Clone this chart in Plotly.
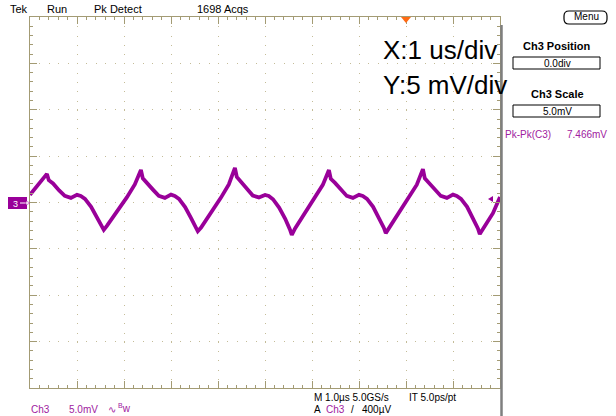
import plotly.graph_objects as go

# ---------------- data ----------------
# time in microseconds (0..10 across the 10 divisions, 1 us/div)
t_us = [0.00, 0.15, 0.36, 0.40, 0.49, 0.62, 0.74, 0.87, 1.00, 1.08, 1.17, 1.30, 1.43, 1.53, 1.57, 1.64, 1.85, 2.06, 2.23,
        2.36, 2.40, 2.49, 2.62, 2.74, 2.87, 3.00, 3.08, 3.17, 3.30, 3.43, 3.53, 3.57, 3.64, 3.85, 4.06, 4.23,
        4.36, 4.40, 4.49, 4.62, 4.74, 4.87, 5.00, 5.08, 5.17, 5.30, 5.43, 5.53, 5.57, 5.64, 5.85, 6.06, 6.23,
        6.36, 6.40, 6.49, 6.62, 6.74, 6.87, 7.00, 7.08, 7.17, 7.30, 7.43, 7.53, 7.57, 7.64, 7.85, 8.06, 8.23,
        8.36, 8.40, 8.49, 8.62, 8.74, 8.87, 9.00, 9.08, 9.17, 9.30, 9.43, 9.53, 9.57, 9.64, 9.85, 10.00]
# Ch3 voltage in mV (5 mV/div)
v_mV = [0.82, 1.79, 3.08, 2.40, 2.05, 1.30, 0.71, 0.50, 0.82, 0.71, 0.39, -0.47, -1.66, -2.60, -2.95, -2.50, -1.00, 0.55, 1.95,
        3.51, 2.60, 2.15, 1.36, 0.71, 0.50, 0.85, 0.71, 0.39, -0.50, -1.70, -2.74, -3.10, -2.70, -1.12, 0.50, 1.95,
        3.73, 2.75, 2.20, 1.40, 0.75, 0.55, 0.82, 0.71, 0.35, -0.55, -1.75, -2.90, -3.50, -2.80, -1.15, 0.50, 1.90,
        3.50, 2.55, 2.11, 1.36, 0.71, 0.50, 0.82, 0.71, 0.39, -0.47, -1.66, -2.74, -3.30, -2.74, -1.12, 0.50, 1.92,
        3.60, 2.60, 2.11, 1.36, 0.71, 0.50, 0.85, 0.71, 0.39, -0.47, -1.70, -2.80, -3.40, -2.80, -1.15, 0.60]

# ---------------- styling ----------------
W, H = 616, 416
X0, X1, Y0, Y1 = 30, 500, 17, 388       # graticule box in pixels
GRID = "#c4bc98"
BORDER = "#a39b74"
PURPLE = "#990099"
FONT = "Liberation Sans, Arial, sans-serif"
BIGFONT = "Liberation Sans, Arial, sans-serif"


def px(x):
    return x / W


def py(y):
    return 1 - y / H


fig = go.Figure()
fig.add_trace(go.Scatter(x=t_us, y=v_mV, mode="lines",
                         line=dict(color=PURPLE, width=3.8), hoverinfo="skip"))

axis_common = dict(showgrid=True, gridcolor=GRID, gridwidth=1, zeroline=False,
                   showline=True, linecolor=BORDER, linewidth=1, mirror="allticks",
                   ticks="inside", ticklen=7, tickcolor=BORDER, tickwidth=1,
                   showticklabels=False, fixedrange=True)

fig.update_layout(
    width=W, height=H, margin=dict(l=0, r=0, t=0, b=0),
    paper_bgcolor="white", plot_bgcolor="white", showlegend=False,
    xaxis=dict(domain=[px(X0), px(X1)], range=[0, 10], dtick=1, tick0=0,
               griddash="1px,8.28px",
               minor=dict(dtick=0.2, tick0=0, ticks="inside", ticklen=3,
                          tickcolor=BORDER, showgrid=False),
               **axis_common),
    yaxis=dict(domain=[py(Y1), py(Y0)], range=[-20, 20], dtick=5, tick0=0,
               griddash="1px,8.4px",
               minor=dict(dtick=1, tick0=0, ticks="inside", ticklen=3,
                          tickcolor=BORDER, showgrid=False),
               **axis_common),
)

ann = []


def txt(x, y, s, size=11, color="black", anchor="left", family=FONT):
    ann.append(dict(x=px(x), y=py(y), xref="paper", yref="paper", text=s,
                    showarrow=False, xanchor=anchor, yanchor="middle",
                    font=dict(size=size, color=color, family=family)))


# header
txt(8, 9, "Tek")
txt(45, 9, "Run")
txt(92, 9, "Pk Detect")
txt(195, 9, "1698 Acqs")
txt(586, 17, "Menu", size=10, anchor="center")

# big annotation text
txt(381, 50, "X:1 us/div", size=26, family=BIGFONT)
txt(381, 85, "Y:5 mV/div", size=26, family=BIGFONT)

# right panel
txt(557, 46, "<b>Ch3 Position</b>", size=11, anchor="center")
txt(557, 63, "0.0div", size=10, anchor="center")
txt(557, 94, "<b>Ch3 Scale</b>", size=11, anchor="center")
txt(557, 111, "5.0mV", size=10, anchor="center")
txt(503, 134, "Pk-Pk(C3)", size=10, color="#a020a0")
txt(565, 134, "7.466mV", size=10, color="#a020a0")

# bottom status
txt(29, 409, "Ch3", size=10, color="#a020a0")
txt(67, 409, "5.0mV", size=10, color="#a020a0")
txt(106, 409, "∿", size=10, color="#a020a0")
txt(116, 408, "<sup>B</sup>w", size=10, color="#a020a0")
txt(312, 397, "M 1.0µs 5.0GS/s", size=10)
txt(407, 397, "IT 5.0ps/pt", size=10)
txt(312, 409, "A", size=10)
txt(324, 409, "Ch3", size=10, color="#a020a0")
txt(349, 409, "/", size=10)
txt(360, 409, "400µV", size=10)

# channel marker label
txt(15, 203.5, "3", size=9, color="white", anchor="center")

fig.update_layout(annotations=ann)


def P(x, y):
    return f"{px(x):.5f},{py(y):.5f}"


shapes = []
# gray right divider
shapes.append(dict(type="line", xref="paper", yref="paper", x0=px(501.5), x1=px(501.5),
                   y0=py(25), y1=py(416), line=dict(color="#7f7f7f", width=2.5)))
# trigger position marker (orange)
shapes.append(dict(type="path", xref="paper", yref="paper",
                   path=f"M{P(401,17)} L{P(411,17)} L{P(406,23)} Z",
                   fillcolor="#ff6a13", line=dict(width=0)))
# channel 3 ground marker box
shapes.append(dict(type="rect", xref="paper", yref="paper", x0=px(8), x1=px(27),
                   y0=py(209), y1=py(197), fillcolor=PURPLE, line=dict(width=0), layer="below"))
# white arrow in the marker
shapes.append(dict(type="line", xref="paper", yref="paper", x0=px(20), x1=px(27),
                   y0=py(203), y1=py(203), line=dict(color="white", width=1)))
shapes.append(dict(type="path", xref="paper", yref="paper",
                   path=f"M{P(26,201)} L{P(30,203)} L{P(26,205)} Z",
                   fillcolor="white", line=dict(color=PURPLE, width=0.5)))
# trigger level marker at right
shapes.append(dict(type="path", xref="paper", yref="paper",
                   path=f"M{P(488,199)} L{P(493,196)} L{P(493,202)} Z",
                   fillcolor=PURPLE, line=dict(width=0)))
# readout boxes
for (ya, yb) in [(57, 69), (105, 117)]:
    shapes.append(dict(type="rect", xref="paper", yref="paper", x0=px(513), x1=px(600),
                       y0=py(yb), y1=py(ya), fillcolor="white", line=dict(color="black", width=1),
                       layer="below"))
# Menu button (rounded)
mx0, mx1, my0, my1, r = 564, 607, 11, 24, 5
menu_path = (f"M{P(mx0+r,my0)} L{P(mx1-r,my0)} Q{P(mx1,my0)} {P(mx1,my0+r)} "
             f"L{P(mx1,my1-r)} Q{P(mx1,my1)} {P(mx1-r,my1)} L{P(mx0+r,my1)} "
             f"Q{P(mx0,my1)} {P(mx0,my1-r)} L{P(mx0,my0+r)} Q{P(mx0,my0)} {P(mx0+r,my0)} Z")
shapes.append(dict(type="path", xref="paper", yref="paper", path=menu_path,
                   line=dict(color="black", width=1.2), fillcolor="white", layer="below"))
fig.update_layout(shapes=shapes)

fig.write_html("out.html", config={"displayModeBar": False},
               post_script="document.body.style.margin='0';document.body.style.padding='0';document.body.style.overflow='hidden';")
